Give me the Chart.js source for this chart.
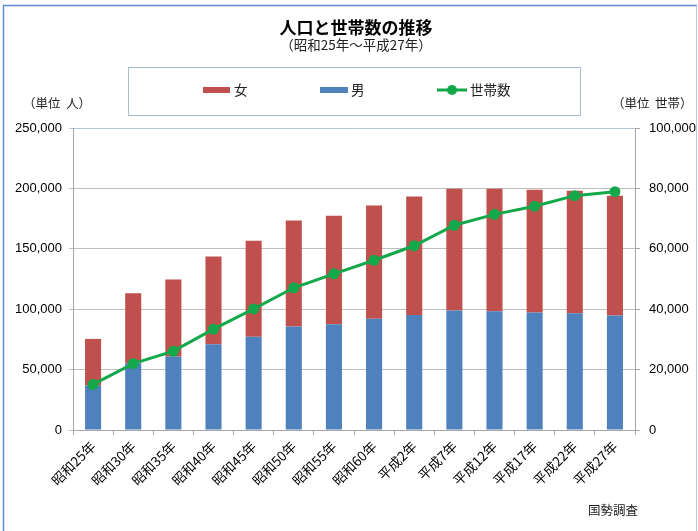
<!DOCTYPE html>
<html>
<head>
<meta charset="utf-8">
<script src="https://cdn.jsdelivr.net/npm/chart.js@4/dist/chart.umd.min.js"></script>
<style>
html,body{margin:0;padding:0;background:#fff;}
#wrap{width:698px;height:531px;position:relative;}
</style>
</head>
<body>
<div id="wrap"><canvas id="c" width="698" height="531"></canvas></div>
<script>
const categories = ["昭和25年","昭和30年","昭和35年","昭和40年","昭和45年","昭和50年","昭和55年","昭和60年","平成2年","平成7年","平成12年","平成17年","平成22年","平成27年"];
const male = [36700, 55200, 60800, 71000, 77100, 85600, 87600, 92000, 95300, 98900, 98300, 97200, 96700, 94700];
const female = [38700, 58000, 63700, 72600, 79500, 87800, 89700, 93800, 98000, 100800, 101400, 101600, 101300, 99200];
const households = [15100, 22000, 26100, 33400, 40100, 47100, 51700, 56200, 61000, 67800, 71400, 74100, 77600, 78900];
const leftTicks = [0, 50000, 100000, 150000, 200000, 250000];
const rightTicks = [0, 20000, 40000, 60000, 80000, 100000];

const JP = "'Noto Sans CJK JP', sans-serif";
const NUM = "'Liberation Sans', 'Noto Sans CJK JP', sans-serif";
const RED = '#C0504D', BLUE = '#4F81BD', GREEN = '#13A84A';

const decor = {
  id: 'decor',
  beforeDraw(chart) {
    const ctx = chart.ctx;
    ctx.save();
    ctx.fillStyle = '#fff';
    ctx.fillRect(0, 0, chart.width, chart.height);
    ctx.restore();
  },
  afterDraw(chart) {
    const ctx = chart.ctx;
    ctx.save();
    // frame
    ctx.strokeStyle = '#5B8BD0';
    ctx.lineWidth = 1.5;
    ctx.beginPath();
    ctx.moveTo(3.5, 531); ctx.lineTo(3.5, 5.5); ctx.lineTo(697, 5.5);
    ctx.stroke();
    ctx.strokeStyle = '#B8C8DC';
    ctx.lineWidth = 1;
    ctx.beginPath();
    ctx.moveTo(696.5, 5.5); ctx.lineTo(696.5, 531);
    ctx.stroke();
    // title
    ctx.fillStyle = '#000';
    ctx.textAlign = 'center';
    ctx.textBaseline = 'middle';
    ctx.font = "bold 17px " + JP;
    ctx.fillText('人口と世帯数の推移', 356, 28);
    ctx.font = "13.5px " + JP;
    ctx.fillStyle = '#222';
    ctx.fillText('（昭和25年～平成27年）', 356, 45);
    // unit labels
    ctx.font = "12.5px " + JP;
    ctx.textAlign = 'left';
    ctx.fillText('（単位  人）', 23, 103);
    ctx.fillText('（単位  世帯）', 612, 103);
    // source
    ctx.font = "12.5px " + JP;
    ctx.fillText('国勢調査', 588, 510);
    // legend box
    ctx.strokeStyle = '#A9BCCF';
    ctx.lineWidth = 1;
    ctx.strokeRect(128.5, 67.5, 452, 48);
    ctx.font = "13.5px " + JP;
    ctx.textBaseline = 'middle';
    ctx.fillStyle = RED;
    ctx.fillRect(203, 87, 27, 6);
    ctx.fillStyle = '#222';
    ctx.fillText('女', 234, 90);
    ctx.fillStyle = BLUE;
    ctx.fillRect(320, 87, 28, 6);
    ctx.fillStyle = '#222';
    ctx.fillText('男', 351, 90);
    ctx.strokeStyle = GREEN;
    ctx.lineWidth = 3;
    ctx.beginPath(); ctx.moveTo(437, 90); ctx.lineTo(467, 90); ctx.stroke();
    ctx.fillStyle = GREEN;
    ctx.beginPath(); ctx.arc(452, 90, 5, 0, Math.PI * 2); ctx.fill();
    ctx.fillStyle = '#222';
    ctx.fillText('世帯数', 470, 90);
    ctx.restore();
  }
};

new Chart(document.getElementById('c'), {
  type: 'bar',
  data: {
    labels: categories,
    datasets: [
      { type: 'line', label: '世帯数', data: households, yAxisID: 'y1', borderColor: GREEN, backgroundColor: GREEN,
        borderWidth: 3, pointRadius: 5.5, pointBackgroundColor: GREEN, pointBorderWidth: 0, tension: 0, order: 0 },
      { label: '男', data: male, backgroundColor: BLUE, yAxisID: 'y', order: 1, stack: 's',
        categoryPercentage: 1, barPercentage: 0.4 },
      { label: '女', data: female, backgroundColor: RED, yAxisID: 'y', order: 1, stack: 's',
        categoryPercentage: 1, barPercentage: 0.4 }
    ]
  },
  options: {
    responsive: false,
    animation: false,
    layout: { padding: { top: 128, left: 0, right: 0, bottom: 0 } },
    plugins: { legend: { display: false }, title: { display: false }, tooltip: { enabled: false } },
    scales: {
      x: {
        stacked: true,
        afterFit(s) { s.height = 101; },
        grid: { offset: true, drawOnChartArea: false, drawTicks: true, tickLength: 5, color: '#A6A6A6' },
        border: { color: '#A6A6A6' },
        ticks: { minRotation: 45, maxRotation: 45, autoSkip: false, padding: 3, color: '#000',
          font: { family: JP, size: 13.5 } }
      },
      y: {
        stacked: true,
        position: 'left',
        min: 0, max: 250000,
        afterFit(s) { s.width = 73; },
        afterBuildTicks(s) { s.ticks = leftTicks.map(v => ({ value: v })); },
        grid: { color: ctx => (ctx.tick && ctx.tick.value === 250000) ? '#B4C6DB' : '#BFBFBF', tickLength: 4, drawTicks: true },
        border: { color: '#A6A6A6' },
        ticks: { padding: 7, color: '#000', font: { family: NUM, size: 13 },
          callback: v => Number(v).toLocaleString('en-US') }
      },
      y1: {
        position: 'right',
        min: 0, max: 100000,
        afterFit(s) { s.width = 63; },
        afterBuildTicks(s) { s.ticks = rightTicks.map(v => ({ value: v })); },
        grid: { drawOnChartArea: false, tickLength: 5, color: '#A6A6A6' },
        border: { color: '#A6A6A6' },
        ticks: { padding: 9, color: '#000', font: { family: NUM, size: 13 },
          callback: v => Number(v).toLocaleString('en-US') }
      }
    }
  },
  plugins: [decor]
});
</script>
</body>
</html>
